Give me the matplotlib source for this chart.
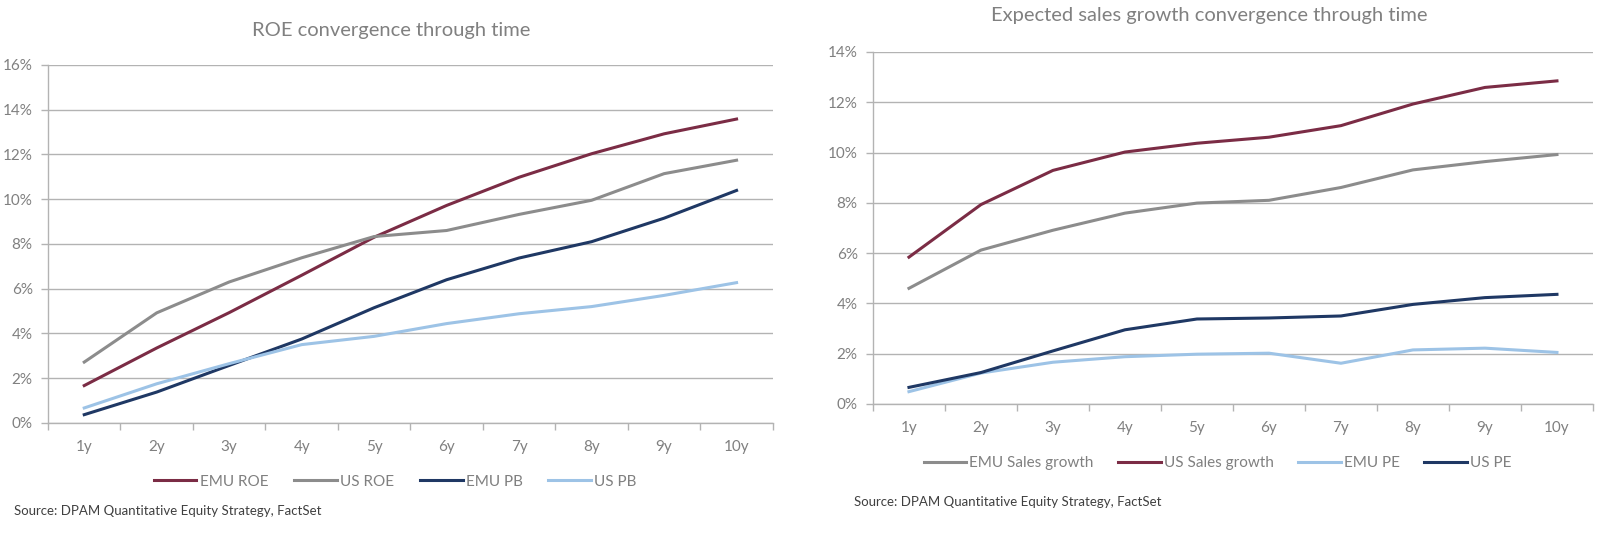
import numpy as np
import matplotlib
matplotlib.use('Agg')
import matplotlib.pyplot as plt
from matplotlib.ticker import FixedLocator, FuncFormatter

plt.rcParams['font.family'] = ['Lato', 'DejaVu Sans']

# DONNEES
years = ['1y', '2y', '3y', '4y', '5y', '6y', '7y', '8y', '9y', '10y']

emu_roe = [1.67, 3.35, 4.93, 6.6, 8.3, 9.72, 10.98, 12.03, 12.92, 13.58]
us_roe = [2.72, 4.92, 6.3, 7.38, 8.33, 8.6, 9.32, 9.95, 11.14, 11.74]
emu_pb = [0.37, 1.38, 2.57, 3.75, 5.15, 6.4, 7.37, 8.1, 9.15, 10.39]
us_pb = [0.67, 1.75, 2.65, 3.5, 3.87, 4.44, 4.88, 5.2, 5.7, 6.27]

emu_sales = [4.6, 6.12, 6.91, 7.59, 7.99, 8.1, 8.61, 9.31, 9.64, 9.92]
us_sales = [5.84, 7.93, 9.29, 10.02, 10.37, 10.61, 11.07, 11.93, 12.59, 12.85]
emu_pe = [0.49, 1.23, 1.66, 1.88, 1.98, 2.02, 1.62, 2.15, 2.22, 2.05]
us_pe = [0.66, 1.25, 2.11, 2.95, 3.38, 3.42, 3.5, 3.96, 4.23, 4.36]

MAROON = '#7b2c45'
GREY = '#8c8c8c'
NAVY = '#1f3864'
LIGHT = '#9dc3e6'
TXT = '#808080'
GRID = '#b3b3b3'
LW = 2.2


def style_axis(ax, ymax, step):
    ''' look Excel : grille horizontale, ticks entre categories '''
    n = len(years)
    ax.set_xlim(-0.5, n - 0.5)
    ax.set_ylim(0, ymax)
    ax.set_yticks(np.arange(0, ymax + 0.01, step))
    ax.yaxis.set_major_formatter(FuncFormatter(lambda v, p: f'{v:.0f}%'))
    ax.set_xticks(range(n))
    ax.set_xticklabels(years)
    ax.xaxis.set_minor_locator(FixedLocator(np.arange(-0.5, n, 1.0)))
    ax.tick_params(axis='x', which='major', length=0, pad=12, labelsize=11, colors=TXT)
    ax.tick_params(axis='x', which='minor', length=5, width=1, color=GRID, direction='out')
    ax.tick_params(axis='y', length=5, width=1, color=GRID, pad=6, labelsize=11, labelcolor=TXT)
    ax.grid(axis='y', color=GRID, linewidth=1)
    ax.set_axisbelow(True)
    for s in ['top', 'right']:
        ax.spines[s].set_visible(False)
    for s in ['left', 'bottom']:
        ax.spines[s].set_color(GRID)
        ax.spines[s].set_linewidth(1)


fig = plt.figure(figsize=(16, 5.5), dpi=100)

# graphique gauche
ax1 = fig.add_axes([0.03, 0.231, 0.453, 0.651])
x = np.arange(len(years))
ax1.plot(x, emu_roe, color=MAROON, lw=LW, label='EMU ROE')
ax1.plot(x, us_roe, color=GREY, lw=LW, label='US ROE')
ax1.plot(x, emu_pb, color=NAVY, lw=LW, label='EMU PB')
ax1.plot(x, us_pb, color=LIGHT, lw=LW, label='US PB')
style_axis(ax1, 16, 2)
fig.text(0.2447, 0.945, 'ROE convergence through time', ha='center', va='center',
         fontsize=14.5, color=TXT)
fig.legend(*ax1.get_legend_handles_labels(), loc='center', bbox_to_anchor=(0.247, 0.124),
           ncol=4, frameon=False, fontsize=11, labelcolor=TXT, handlelength=2.8,
           handletextpad=0.2, columnspacing=1.7)
fig.text(0.009, 0.071, 'Source: DPAM Quantitative Equity Strategy, FactSet',
         ha='left', va='center', fontsize=9.5, color='#404040')

# graphique droit
ax2 = fig.add_axes([0.5456, 0.2655, 0.45, 0.64])
ax2.plot(x, emu_sales, color=GREY, lw=LW, label='EMU Sales growth')
ax2.plot(x, us_sales, color=MAROON, lw=LW, label='US Sales growth')
ax2.plot(x, emu_pe, color=LIGHT, lw=LW, label='EMU PE')
ax2.plot(x, us_pe, color=NAVY, lw=LW, label='US PE')
style_axis(ax2, 14, 2)
fig.text(0.756, 0.972, 'Expected sales growth convergence through time', ha='center',
         va='center', fontsize=14.5, color=TXT)
fig.legend(*ax2.get_legend_handles_labels(), loc='center', bbox_to_anchor=(0.761, 0.158),
           ncol=4, frameon=False, fontsize=11, labelcolor=TXT, handlelength=2.8,
           handletextpad=0.2, columnspacing=1.6)
fig.text(0.534, 0.087, 'Source: DPAM Quantitative Equity Strategy, FactSet',
         ha='left', va='center', fontsize=9.5, color='#404040')

fig.savefig('out.png', dpi=100, facecolor='white')
